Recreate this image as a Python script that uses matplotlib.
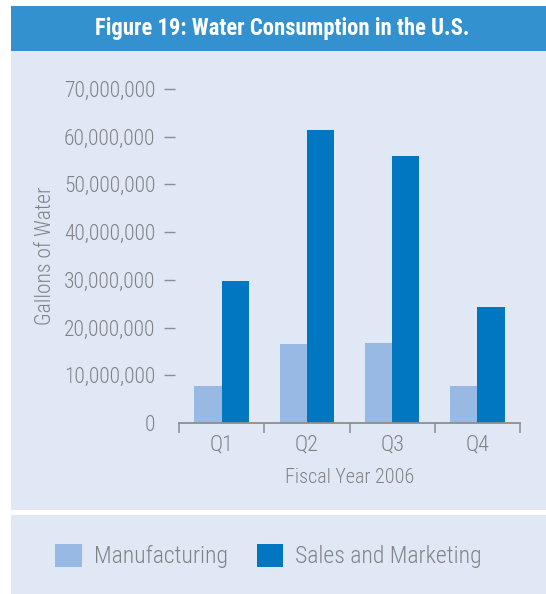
import matplotlib.pyplot as plt
from matplotlib.patches import Rectangle
import numpy as np

quarters = ['Q1', 'Q2', 'Q3', 'Q4']
manufacturing = [7.7e6, 16.5e6, 16.7e6, 7.7e6]
sales_marketing = [29.7e6, 61.4e6, 55.9e6, 24.3e6]
y_ticks = [0, 10e6, 20e6, 30e6, 40e6, 50e6, 60e6, 70e6]

W, H = 546, 594
panel_col = '#E1E8F5'
text_col = '#808285'
axis_col = '#8C8E91'

plt.rcParams['font.family'] = ['Roboto Condensed', 'Archivo Narrow', 'DejaVu Sans']
plt.rcParams['font.weight'] = 'light'
plt.rcParams['axes.labelweight'] = 'light'

fig = plt.figure(figsize=(W / 100, H / 100), dpi=100)
fig.patch.set_facecolor('white')

def px_rect(x0, y0, x1, y1, color):
    # rectangle in pixel coords measured from the top-left corner
    fig.patches.append(Rectangle((x0 / W, 1 - y1 / H), (x1 - x0) / W, (y1 - y0) / H,
                                 transform=fig.transFigure, facecolor=color,
                                 edgecolor='none', zorder=-10))

px_rect(11, 6, W, 51, '#3391D0')
px_rect(11, 51, W, 510, panel_col)
px_rect(11, 515, W, H, panel_col)

fig.text(282 / W, 1 - 29 / H, 'Figure 19: Water Consumption in the U.S.',
         color='white', fontsize=16.3, fontweight='bold', ha='center', va='center')

ax = fig.add_axes([179 / W, 1 - 423 / H, (520 - 179) / W, (423 - 89) / H])
ax.set_facecolor('none')

x = np.arange(len(quarters))
w = 0.32
b1 = ax.bar(x - w / 2, manufacturing, w, color='#98B9E3', label='Manufacturing')
b2 = ax.bar(x + w / 2, sales_marketing, w, color='#0077C0', label='Sales and Marketing')

ax.set_xlim(-0.5, len(quarters) - 0.5)
ax.set_ylim(0, 70e6)

for s in ['top', 'right', 'left']:
    ax.spines[s].set_visible(False)
ax.spines['left'].set_position(('outward', 3))
ax.spines['bottom'].set_color(axis_col)
ax.spines['bottom'].set_linewidth(1.3)

# boundary ticks on the x axis, labels centred on each group
ax.set_xticks(np.arange(len(quarters) + 1) - 0.5)
ax.set_xticklabels([])
ax.set_xticks(x, minor=True)
ax.set_xticklabels(quarters, minor=True)
ax.tick_params(axis='x', which='major', direction='out', length=7.5, width=1.1, color=axis_col)
ax.tick_params(axis='x', which='minor', length=0, pad=8, labelsize=16, labelcolor=text_col)

ax.set_yticks(y_ticks)
ax.set_yticklabels(['0'] + [f'{int(v):,}' for v in y_ticks[1:]])
ax.tick_params(axis='y', direction='out', length=8, width=1.0, color=axis_col,
               pad=6, labelsize=15.5, labelcolor=text_col)
ax.yaxis.get_major_ticks()[0].tick1line.set_visible(False)

ax.set_xlabel('Fiscal Year 2006', fontsize=14.5, color=text_col, labelpad=9)
ax.set_ylabel('Gallons of Water', fontsize=15.5, color=text_col, labelpad=6)

leg = fig.legend(handles=[b1, b2], loc='center left', bbox_to_anchor=(46 / W, 1 - 556 / H),
                 ncol=2, frameon=False, fontsize=17, handlelength=1.14, handleheight=1.17,
                 handletextpad=0.5, columnspacing=1.2, borderaxespad=0)
for t in leg.get_texts():
    t.set_color(text_col)

plt.savefig('out.png', dpi=100)
